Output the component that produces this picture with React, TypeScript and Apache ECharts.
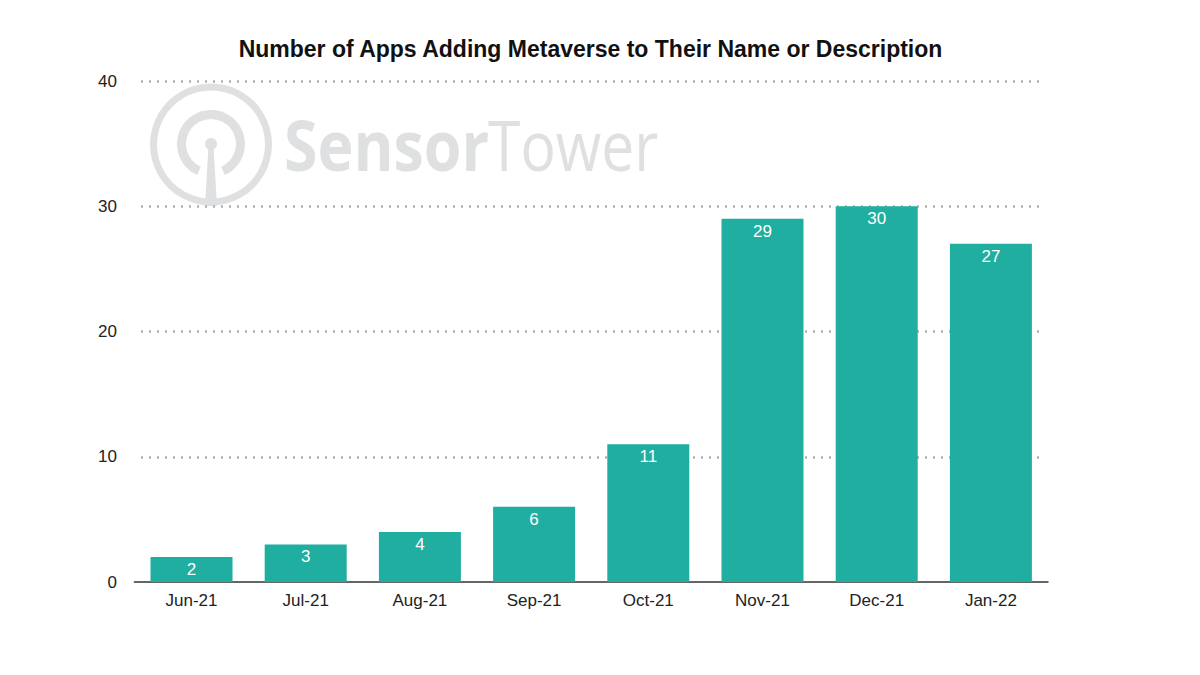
import React, { useEffect, useRef } from "react";
import * as echarts from "echarts";

const categories = ["Jun-21", "Jul-21", "Aug-21", "Sep-21", "Oct-21", "Nov-21", "Dec-21", "Jan-22"];
const values = [2, 3, 4, 6, 11, 29, 30, 27];
const titleText = "Number of Apps Adding Metaverse to Their Name or Description";
const logoColor = "#dfe0e1";

export default function App() {
  const ref = useRef<HTMLDivElement>(null);
  useEffect(() => {
    const chart = echarts.init(ref.current!, null, { renderer: "svg" });
    chart.setOption({
      animation: false,
      backgroundColor: "#fff",
      title: {
        text: titleText, left: 585.5, top: 32, textAlign: "center",
        textStyle: { fontFamily: "Liberation Sans", fontSize: 23, fontWeight: "bold", color: "#111" },
      },
      graphic: [
        { type: "ring", shape: { cx: 211, cy: 144.5, r: 61, r0: 54 }, style: { fill: logoColor }, z: 0 },
        { type: "sector", shape: { cx: 211, cy: 144, r: 34, r0: 25, startAngle: Math.PI / 2 + 0.42, endAngle: Math.PI / 2 - 0.42 + Math.PI * 2 }, style: { fill: logoColor }, z: 0 },
        { type: "circle", shape: { cx: 211, cy: 144, r: 6 }, style: { fill: logoColor }, z: 0 },
        { type: "polygon", shape: { points: [[208.5, 146], [213.5, 146], [217, 206], [205, 206]] }, style: { fill: logoColor }, z: 0 },
        { type: "text", x: 284, y: 109, scaleX: 0.87, style: { text: "Sensor", fontFamily: "Open Sans", fontWeight: "bold", fontSize: 70, fill: logoColor }, z: 0 },
        { type: "text", x: 488, y: 109, scaleX: 0.84, style: { text: "Tower", fontFamily: "Open Sans", fontSize: 70, fill: logoColor }, z: 0 },
      ],
      grid: [
        { left: 141, width: 904, top: 81, bottom: 93 },
        { left: 134.4, width: 913.6, top: 81, bottom: 93 },
      ],
      xAxis: [
        { type: "category", gridIndex: 0, data: categories, show: false },
        {
          type: "category", gridIndex: 1, data: categories,
          axisTick: { show: false },
          axisLine: { lineStyle: { color: "#333", width: 1.5 } },
          axisLabel: { fontFamily: "Liberation Sans", fontSize: 17, color: "#222", margin: 10 },
        },
      ],
      yAxis: [
        {
          type: "value", gridIndex: 0, min: 0, max: 40, interval: 10,
          axisLine: { show: false }, axisTick: { show: false },
          axisLabel: { fontFamily: "Liberation Sans", fontSize: 17, color: "#222", margin: 24 },
          splitLine: { showMinLine: false, lineStyle: { color: "#b0b0b0", type: [2, 6], width: 2.5 } },
        },
        { type: "value", gridIndex: 1, min: 0, max: 40, interval: 10, show: false, splitLine: { show: false } },
      ],
      series: [{
        type: "bar", data: values, barWidth: 82, xAxisIndex: 1, yAxisIndex: 1,
        itemStyle: { color: "#1FAE9F" },
        label: { show: true, position: "insideTop", distance: 4, color: "#fff", fontFamily: "Liberation Sans", fontSize: 17 },
      }],
    });
    return () => chart.dispose();
  }, []);
  return <div ref={ref} style={{ position: "fixed", left: 0, top: 0, width: 1200, height: 675 }} />;
}
